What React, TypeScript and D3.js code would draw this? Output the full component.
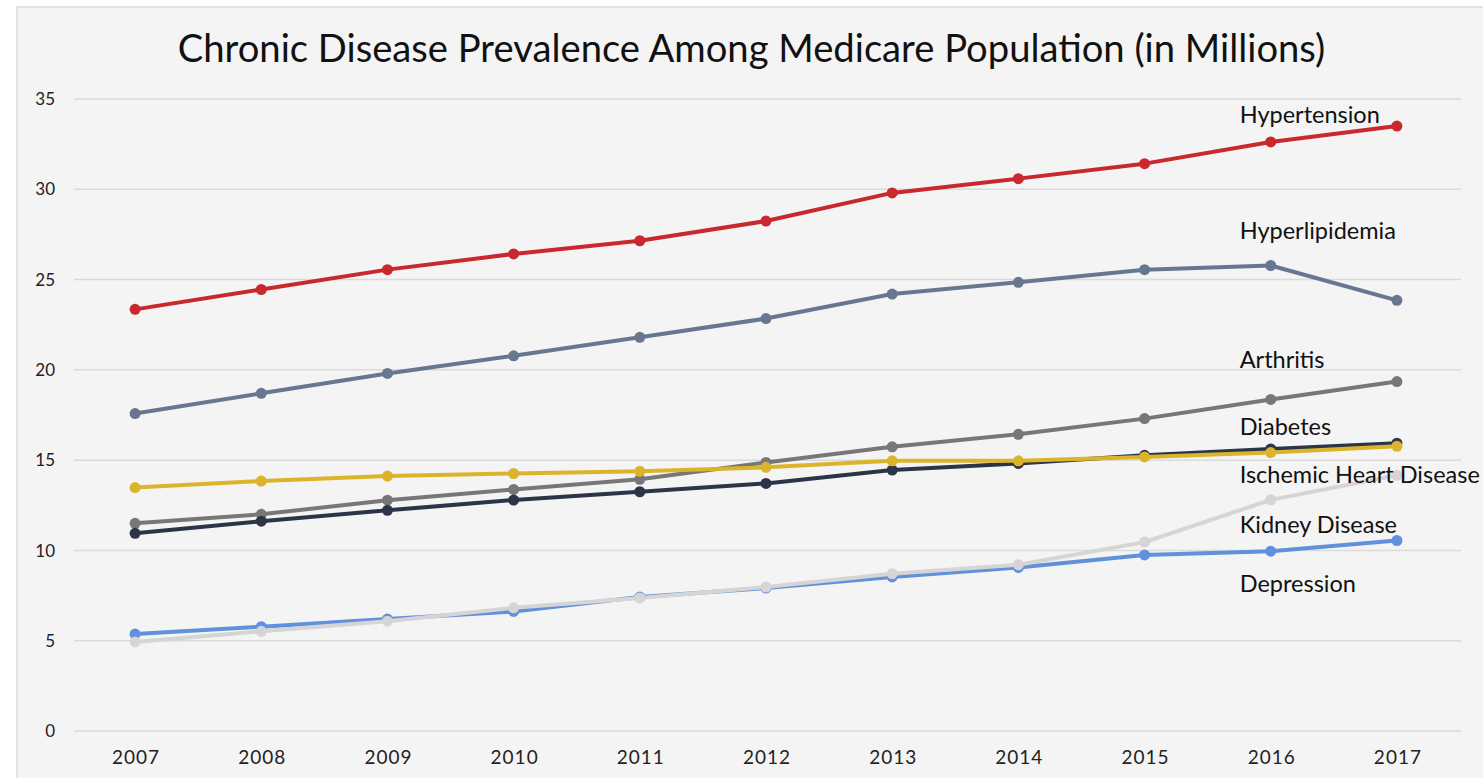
import React from "react";
import * as d3 from "d3";

const years = ["2007", "2008", "2009", "2010", "2011", "2012", "2013", "2014", "2015", "2016", "2017"];
const yTicks = [0, 5, 10, 15, 20, 25, 30, 35];

const seriesNames = [
  "Hypertension",
  "Hyperlipidemia",
  "Arthritis",
  "Diabetes",
  "Depression",
  "Ischemic Heart Disease",
  "Kidney Disease",
];

const hypertension = [23.35, 24.45, 25.55, 26.42, 27.15, 28.24, 29.8, 30.59, 31.42, 32.62, 33.5];
const hyperlipidemia = [17.58, 18.7, 19.8, 20.78, 21.8, 22.84, 24.2, 24.85, 25.55, 25.78, 23.85];
const arthritis = [11.5, 12.0, 12.78, 13.38, 13.94, 14.87, 15.74, 16.43, 17.3, 18.36, 19.35];
const diabetes = [10.95, 11.62, 12.22, 12.79, 13.25, 13.71, 14.45, 14.82, 15.27, 15.62, 15.94];
const depression = [5.37, 5.78, 6.2, 6.62, 7.42, 7.92, 8.53, 9.06, 9.75, 9.96, 10.55];
const ischemic = [13.48, 13.84, 14.12, 14.26, 14.38, 14.6, 14.96, 14.96, 15.18, 15.42, 15.77];
const kidney = [4.93, 5.52, 6.08, 6.82, 7.37, 7.97, 8.71, 9.21, 10.46, 12.8, 14.16];

const seriesValues = [hypertension, hyperlipidemia, arthritis, diabetes, depression, ischemic, kidney];
const seriesColors = ["#c8282e", "#687791", "#777777", "#2c3447", "#6190dc", "#dcb42b", "#d5d5d5"];

// label anchors (in data units) for the text annotations near the right end
const labelNames = [
  "Hypertension",
  "Hyperlipidemia",
  "Arthritis",
  "Diabetes",
  "Ischemic Heart Disease",
  "Kidney Disease",
  "Depression",
];
const labelValues = [33.65, 27.23, 20.09, 16.39, 13.75, 10.95, 7.68];

const title = "Chronic Disease Prevalence Among Medicare Population (in Millions)";

const W = 1483;
const H = 778;
const FONT = "Lato, 'Open Sans', sans-serif";

export default function App() {
  const x = d3.scalePoint<string>().domain(years).range([72, 1460]).padding(0.5);
  const y = d3.scaleLinear().domain([0, 35]).range([731, 99]);
  const [r0, r1] = x.range();

  const line = (vals: number[]) =>
    d3
      .line<number>()
      .x((_, i) => x(years[i]) as number)
      .y((v) => y(v))(vals) as string;

  const labelX = (x("2016") as number) - 31;

  return (
    <svg
      width={W}
      height={H}
      style={{ position: "fixed", left: 0, top: 0, display: "block", background: "#ffffff" }}
    >
      <rect x={17} y={7} width={W} height={H} fill="#f4f4f4" stroke="#dcdcdc" strokeWidth={1.5} />
      <text
        x={751.5}
        y={62}
        textAnchor="middle"
        fontFamily={FONT}
        fontSize={38.2}
        fill="#111"
      >
        {title}
      </text>
      {yTicks.map((t) => (
        <g key={t}>
          <line x1={r0 + 2} x2={r1 + 1} y1={y(t)} y2={y(t)} stroke="#dadada" strokeWidth={1.5} />
          <text
            x={55}
            y={y(t)}
            dy="0.36em"
            textAnchor="end"
            fontFamily={FONT}
            fontSize={17}
            fill="#222"
          >
            {t}
          </text>
        </g>
      ))}
      {years.map((yr) => (
        <text
          key={yr}
          x={(x(yr) as number) + 1}
          y={764}
          textAnchor="middle"
          fontFamily={FONT}
          fontSize={19}
          letterSpacing={1}
          fill="#222"
        >
          {yr}
        </text>
      ))}
      {seriesValues.map((vals, si) => (
        <g key={seriesNames[si]}>
          <path d={line(vals)} fill="none" stroke={seriesColors[si]} strokeWidth={4} strokeLinejoin="round" />
          {vals.map((v, i) => (
            <circle key={i} cx={x(years[i]) as number} cy={y(v)} r={5.5} fill={seriesColors[si]} />
          ))}
        </g>
      ))}
      {labelNames.map((n, i) => (
        <text
          key={n}
          x={labelX}
          y={y(labelValues[i])}
          fontFamily={FONT}
          fontSize={23.5}
          fill="#111"
        >
          {n}
        </text>
      ))}
    </svg>
  );
}
